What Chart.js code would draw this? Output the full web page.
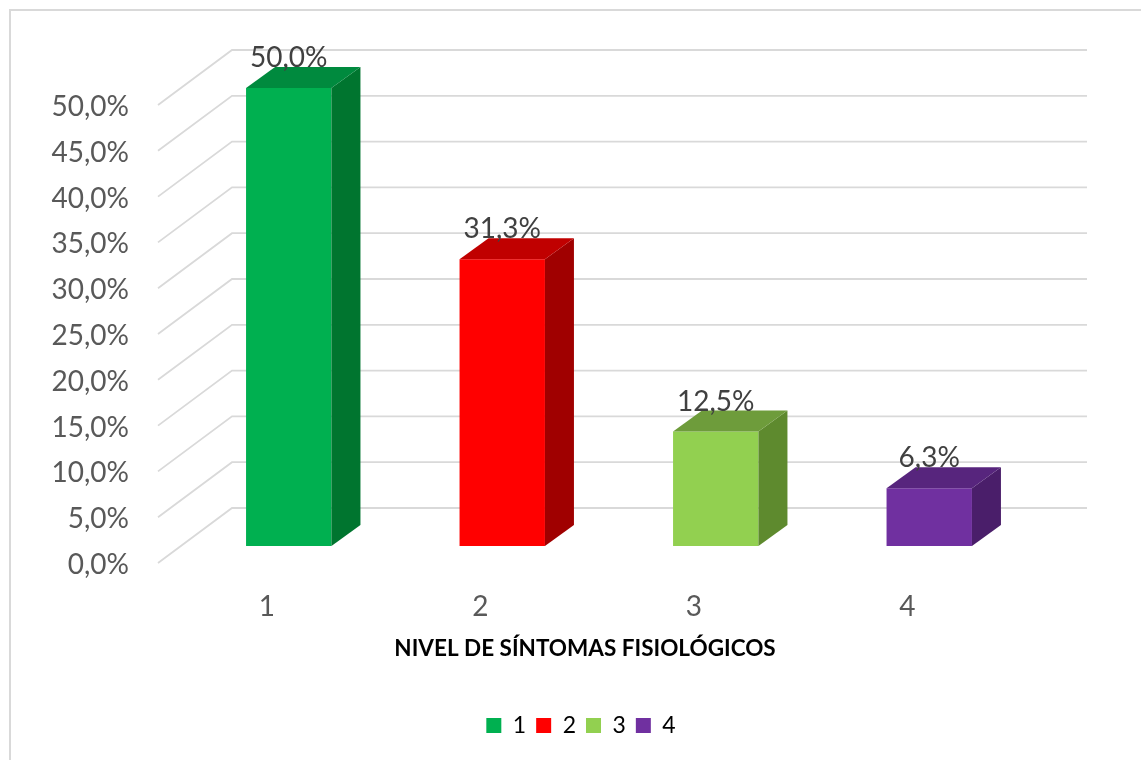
<!DOCTYPE html>
<html>
<head>
<meta charset="utf-8">
<script src="https://cdn.jsdelivr.net/npm/chart.js@4.4.1/dist/chart.umd.min.js"></script>
<style>
  html, body { margin: 0; padding: 0; background: #fff; }
  #wrap { width: 1141px; height: 760px; }
</style>
</head>
<body>
<div id="wrap"><canvas id="chartNivel" width="1141" height="760"></canvas></div>
<script>
const categories = ["1", "2", "3", "4"];
const percentages = [50.0, 31.3, 12.5, 6.3];
const frontColors = ["#00B050", "#FF0000", "#92D050", "#7030A0"];
const topColors = ["#008A3E", "#C00000", "#6E9C3B", "#57257D"];
const sideColors = ["#00752F", "#A00000", "#5E8A2E", "#4A1E6A"];
const axisTitle = "NIVEL DE SÍNTOMAS FISIOLÓGICOS";

// fake 3D: back wall and bar planes are offset from the front edge of the floor
const WALL = { dx: 74, dy: -55 };
const BAR_SHIFT = { dx: 24, dy: -17 };
const BAR_DEPTH = { dx: 29, dy: -21 };
const GRID_RIGHT = 1087;

function fmtPct(v) {
  return Number(v).toFixed(1).replace(".", ",") + "%";
}

function poly(ctx, pts, color) {
  ctx.beginPath();
  ctx.moveTo(pts[0][0], pts[0][1]);
  for (let i = 1; i < pts.length; i++) ctx.lineTo(pts[i][0], pts[i][1]);
  ctx.closePath();
  ctx.fillStyle = color;
  ctx.fill();
}

const box3d = {
  id: "box3d",
  beforeDraw(chart) {
    const ctx = chart.ctx;
    ctx.save();
    ctx.strokeStyle = "#d9d9d9";
    ctx.lineWidth = 2;
    ctx.strokeRect(10, 10, chart.width + 20, chart.height + 20);
    ctx.restore();
  },
  beforeDatasetsDraw(chart) {
    const ctx = chart.ctx;
    const y = chart.scales.y;
    const left = chart.chartArea.left;
    ctx.save();
    ctx.strokeStyle = "#d9d9d9";
    ctx.lineWidth = 1.8;
    for (const t of y.ticks) {
      const py = y.getPixelForValue(t.value);
      ctx.beginPath();
      ctx.moveTo(left, py);
      ctx.lineTo(left + WALL.dx, py + WALL.dy);
      ctx.lineTo(GRID_RIGHT, py + WALL.dy);
      ctx.stroke();
    }
    ctx.restore();
    // bars sit partway into the depth of the floor
    ctx.save();
    ctx.translate(BAR_SHIFT.dx, BAR_SHIFT.dy);
  },
  afterDatasetsDraw(chart) {
    const ctx = chart.ctx;
    const bars = chart.getDatasetMeta(0).data;
    bars.forEach((bar, i) => {
      const p = bar.getProps(["x", "y", "base", "width"], true);
      const l = p.x - p.width / 2;
      const r = p.x + p.width / 2;
      const dx = BAR_DEPTH.dx, dy = BAR_DEPTH.dy;
      poly(ctx, [[r, p.y], [r + dx, p.y + dy], [r + dx, p.base + dy], [r, p.base]], sideColors[i]);
      poly(ctx, [[l, p.y], [l + dx, p.y + dy], [r + dx, p.y + dy], [r, p.y]], topColors[i]);
    });
    ctx.restore();

    ctx.save();
    ctx.font = "28px Lato";
    ctx.fillStyle = "#404040";
    ctx.textAlign = "center";
    ctx.textBaseline = "middle";
    bars.forEach((bar, i) => {
      const p = bar.getProps(["x", "y"], true);
      ctx.fillText(fmtPct(percentages[i]), p.x + BAR_SHIFT.dx, p.y + BAR_SHIFT.dy - 30);
    });
    ctx.restore();
  }
};

const ctx = document.getElementById("chartNivel");
const chart = new Chart(ctx, {
  type: "bar",
  data: {
    labels: categories,
    datasets: [
      {
        label: axisTitle,
        data: percentages,
        backgroundColor: frontColors,
        borderWidth: 0,
        barPercentage: 0.4,
        categoryPercentage: 1.0,
        clip: false
      }
    ]
  },
  options: {
    responsive: false,
    animation: false,
    devicePixelRatio: 1,
    layout: { padding: { top: 105, left: 40, right: 19, bottom: 13 } },
    plugins: {
      tooltip: { enabled: false },
      legend: {
        position: "bottom",
        labels: {
          boxWidth: 15,
          boxHeight: 15,
          padding: 10,
          color: "#000",
          font: { family: "Lato", size: 23 },
          generateLabels: () =>
            categories.map((c, i) => ({
              text: c,
              fillStyle: frontColors[i],
              strokeStyle: frontColors[i],
              lineWidth: 0,
              hidden: false,
              index: i
            }))
        }
      }
    },
    scales: {
      x: {
        grid: { display: false, drawTicks: false },
        border: { display: false },
        ticks: { color: "#595959", font: { family: "Lato", size: 28 }, padding: 27, labelOffset: 2 },
        title: {
          display: true,
          text: axisTitle,
          color: "#000",
          font: { family: "Lato", size: 22.5, weight: "bold" },
          padding: { top: 0, bottom: 42 }
        },
        afterFit: (s) => { s.height = 141; }
      },
      y: {
        min: 0,
        max: 50,
        grid: { display: false, drawTicks: false },
        border: { display: false },
        ticks: {
          stepSize: 5,
          color: "#595959",
          font: { family: "Lato", size: 28 },
          padding: 29,
          labelOffset: 2,
          callback: (v) => fmtPct(v)
        },
        afterFit: (s) => { s.width = 118; }
      },
      // empty right-hand strip: keeps the floor where it is while the legend centres on the page
      pad: {
        position: "right",
        grid: { display: false, drawTicks: false },
        border: { display: false },
        ticks: { display: false },
        afterFit: (s) => { s.width = 110; }
      }
    }
  },
  plugins: [box3d]
});
</script>
</body>
</html>
